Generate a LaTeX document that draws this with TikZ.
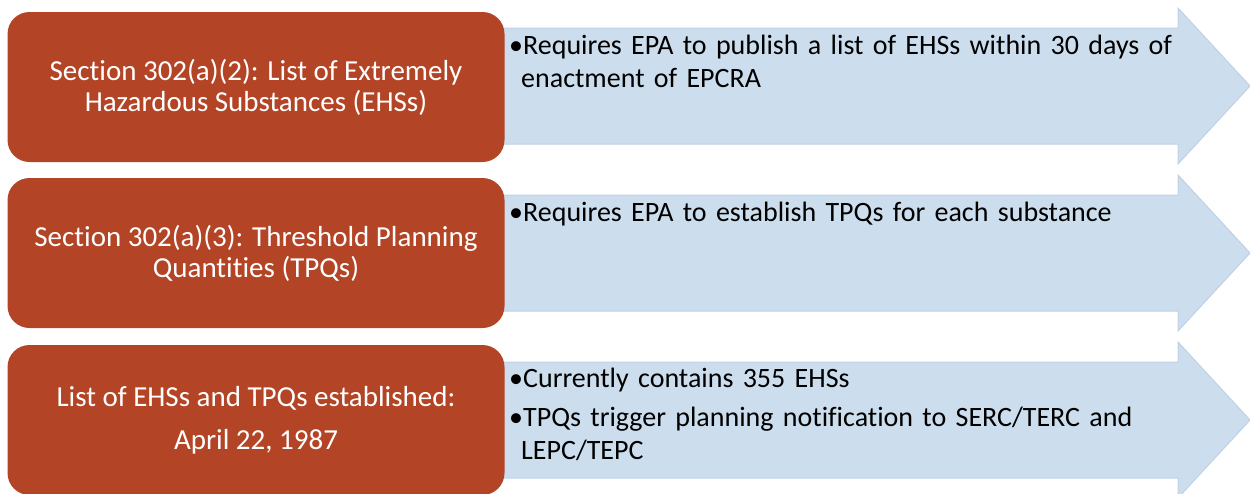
\documentclass[tikz,border=0pt]{standalone}
\usepackage{fontspec}
\setmainfont{Carlito}[Ligatures=NoCommon]
\usetikzlibrary{positioning}

\definecolor{rust}{HTML}{B34425}
\definecolor{paleblue}{HTML}{CCDEED}
\definecolor{blueedge}{HTML}{BFD1E5}

\tikzset{
  hdr/.style={fill=rust, rounded corners=22pt, minimum width=497pt, minimum height=150pt,
    text=white, align=center, inner sep=0pt, font=\fontsize{29}{31}\selectfont},
  bluearrow/.style={fill=paleblue, draw=blueedge, line width=1pt},
  arrowtxt/.style={anchor=north west, align=left, text width=700pt, inner sep=0pt,
    font=\fontsize{28}{33}\selectfont}
}

\begin{document}
\begin{tikzpicture}[x=1pt,y=-1pt]
\useasboundingbox (0,0) rectangle (1250,493);

% arrows behind the headers
\foreach \c in {86,253,420}
  \draw[bluearrow] (470,\c-58) -- (1178,\c-58) -- (1178,\c-78) -- (1250,\c)
    -- (1178,\c+78) -- (1178,\c+58) -- (470,\c+58) -- cycle;

% headers
\node[hdr] (hdrEHS) at (256,87) {Section 302(a)(2): List of Extremely\\Hazardous Substances (EHSs)};
\node[hdr] (hdrTPQ) at (256,253) {Section 302(a)(3): Threshold Planning\\Quantities (TPQs)};
\node[hdr] (hdrDate) at (256,420) {List of EHSs and TPQs established:\\[12pt]April 22, 1987};

% bullet texts
\node[arrowtxt] (txtEHS) at (509,35) {\raggedright\hangindent=12pt\hangafter=1
  •Requires EPA to publish a list of EHSs within 30 days of enactment of EPCRA\par};
\node[arrowtxt] (txtTPQ) at (509,202) {\raggedright •Requires EPA to establish TPQs for each substance\par};
\node[arrowtxt] (txtDate) at (509,368) {\raggedright •Currently contains 355 EHSs\par\vspace{6pt}
  \hangindent=12pt\hangafter=1
  •TPQs trigger planning notification to SERC/TERC and LEPC/TEPC\par};
\end{tikzpicture}
\end{document}
